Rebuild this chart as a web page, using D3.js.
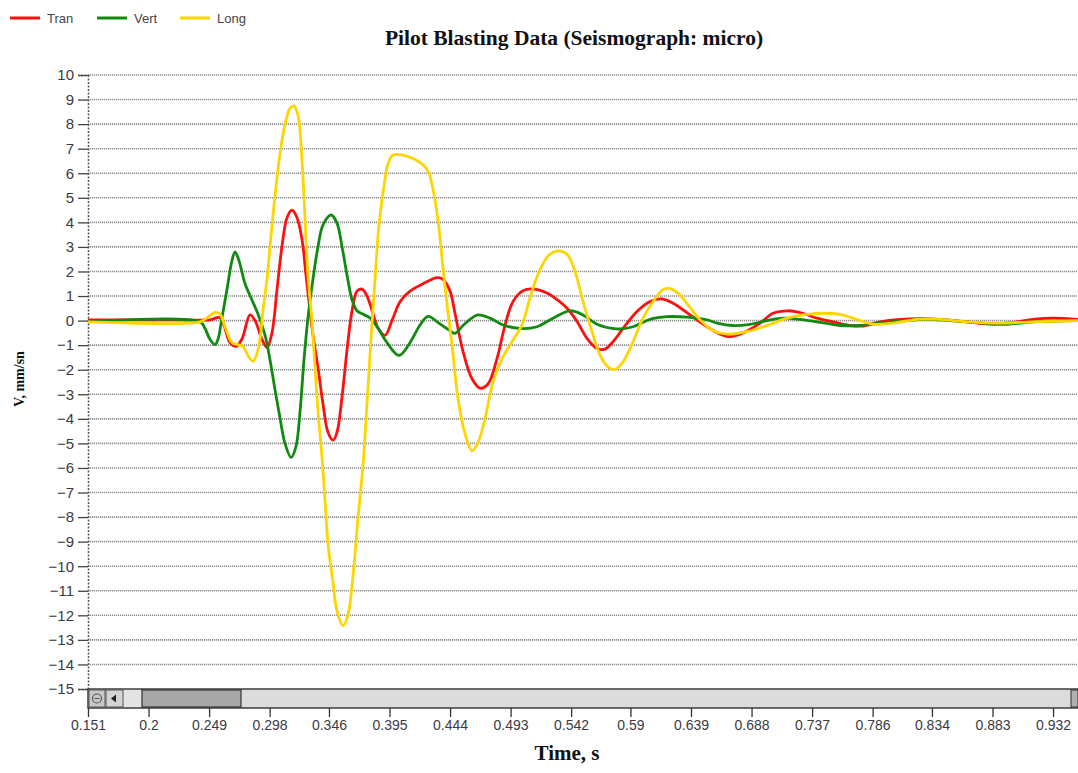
<!DOCTYPE html>
<html>
<head>
<meta charset="utf-8">
<script src="https://cdnjs.cloudflare.com/ajax/libs/d3/7.8.5/d3.min.js"></script>
<style>
  html, body { margin: 0; padding: 0; background: #fff; }
  svg { display: block; }
</style>
</head>
<body>
<svg id="chart" width="1078" height="773"></svg>
<script>
// ---------- DATA ----------
const seriesNames = ["Tran", "Vert", "Long"];
const seriesColors = ["#ff1010", "#118a11", "#ffd500"];

const xTickValues = [0.151, 0.2, 0.249, 0.298, 0.346, 0.395, 0.444, 0.493, 0.542, 0.59, 0.639, 0.688, 0.737, 0.786, 0.834, 0.883, 0.932];
const xTickLabels = ["0.151", "0.2", "0.249", "0.298", "0.346", "0.395", "0.444", "0.493", "0.542", "0.59", "0.639", "0.688", "0.737", "0.786", "0.834", "0.883", "0.932"];
const yTickValues = [10, 9, 8, 7, 6, 5, 4, 3, 2, 1, 0, -1, -2, -3, -4, -5, -6, -7, -8, -9, -10, -11, -12, -13, -14, -15];

// [time s, velocity mm/s]
const tranData = [[0.151,0.03],[0.2255,0.03],[0.2497,0.03],[0.2578,0.12],[0.2659,-0.9],[0.2708,-1.05],[0.2756,-0.75],[0.2821,0.23],[0.2862,0.0],[0.2918,-0.76],[0.2959,-1.1],[0.2999,-0.5],[0.3040,1.28],[0.3080,3.03],[0.3121,4.2],[0.3161,4.5],[0.3201,4.2],[0.3242,3.3],[0.3274,1.86],[0.3307,0.4],[0.3331,-0.6],[0.3371,-1.9],[0.3412,-3.4],[0.3452,-4.55],[0.3493,-4.87],[0.3525,-4.55],[0.3566,-3.1],[0.3606,-1.2],[0.3647,0.4],[0.3687,1.2],[0.3728,1.28],[0.3768,1.0],[0.3809,0.4],[0.3857,-0.3],[0.3914,-0.6],[0.3970,0.0],[0.4035,0.77],[0.4116,1.2],[0.4221,1.5],[0.4335,1.75],[0.4383,1.68],[0.4440,1.2],[0.4480,0.3],[0.4545,-1.25],[0.4618,-2.37],[0.4683,-2.75],[0.4747,-2.58],[0.4820,-1.55],[0.4885,-0.18],[0.4950,0.78],[0.5031,1.22],[0.5112,1.29],[0.5225,1.12],[0.5306,0.85],[0.5387,0.5],[0.5468,-0.04],[0.5549,-0.73],[0.5630,-1.14],[0.5694,-1.16],[0.5759,-0.86],[0.5840,-0.32],[0.5953,0.37],[0.6058,0.78],[0.6156,0.88],[0.6245,0.71],[0.6382,0.23],[0.6520,-0.25],[0.6625,-0.55],[0.6706,-0.65],[0.6811,-0.5],[0.6949,-0.1],[0.7054,0.3],[0.7175,0.4],[0.7272,0.33],[0.7410,0.1],[0.7540,-0.05],[0.7677,-0.2],[0.7782,-0.22],[0.7920,-0.05],[0.8082,0.05],[0.8243,0.08],[0.8405,0.05],[0.8624,-0.05],[0.8834,-0.15],[0.9029,-0.05],[0.9158,0.05],[0.9320,0.1],[0.9522,0.05]];

const vertData = [[0.151,-0.05],[0.2416,-0.05],[0.2457,-0.32],[0.2497,-0.76],[0.2538,-0.98],[0.2562,-0.76],[0.2594,0.11],[0.2635,1.28],[0.2675,2.44],[0.2700,2.8],[0.2732,2.44],[0.2781,1.5],[0.2837,0.84],[0.2886,0.26],[0.2943,-0.6],[0.2983,-1.6],[0.3023,-2.8],[0.3064,-3.97],[0.3104,-5.0],[0.3153,-5.57],[0.3193,-5.13],[0.3226,-3.7],[0.3258,-1.6],[0.3290,0.11],[0.3331,1.7],[0.3371,3.0],[0.3412,3.9],[0.3477,4.3],[0.3525,3.97],[0.3566,3.0],[0.3606,1.86],[0.3647,0.84],[0.3687,0.4],[0.3736,0.26],[0.3792,0.11],[0.3849,-0.25],[0.3930,-0.9],[0.4027,-1.42],[0.4116,-0.9],[0.4197,-0.18],[0.4262,0.17],[0.4343,-0.08],[0.4440,-0.42],[0.4480,-0.52],[0.4545,-0.2],[0.4618,0.11],[0.4666,0.23],[0.4764,0.1],[0.4869,-0.18],[0.5006,-0.32],[0.5144,-0.25],[0.5273,0.1],[0.5411,0.4],[0.5516,0.23],[0.5630,-0.15],[0.5791,-0.34],[0.5921,-0.25],[0.6058,0.05],[0.6196,0.16],[0.6358,0.14],[0.6520,0.03],[0.6601,-0.1],[0.6730,-0.2],[0.6868,-0.15],[0.7005,0.0],[0.7135,0.1],[0.7272,0.05],[0.7410,-0.05],[0.7596,-0.2],[0.7758,-0.2],[0.7920,-0.1],[0.8138,0.0],[0.8284,0.05],[0.8486,0.0],[0.8753,-0.1],[0.8948,-0.15],[0.9158,-0.05],[0.9522,0.0]];

const longData = [[0.151,-0.05],[0.2416,-0.05],[0.2473,0.11],[0.2538,0.33],[0.2578,0.26],[0.2619,-0.25],[0.2675,-0.9],[0.2724,-0.98],[0.2764,-1.05],[0.2805,-1.42],[0.2845,-1.66],[0.2878,-1.34],[0.2902,-0.76],[0.2926,0.4],[0.2959,1.7],[0.2983,3.0],[0.3023,5.07],[0.3064,6.8],[0.3104,7.98],[0.3145,8.64],[0.3177,8.74],[0.3210,8.34],[0.3242,6.5],[0.3266,4.2],[0.3290,1.86],[0.3323,-0.03],[0.3347,-1.9],[0.3371,-3.67],[0.3404,-5.57],[0.3428,-7.3],[0.3452,-9.07],[0.3493,-10.67],[0.3525,-11.83],[0.3574,-12.42],[0.3614,-11.98],[0.3655,-10.38],[0.3695,-8.05],[0.3736,-5.86],[0.3768,-3.38],[0.3800,-0.76],[0.3833,1.7],[0.3865,3.9],[0.3906,5.5],[0.3938,6.38],[0.3978,6.74],[0.4059,6.74],[0.4140,6.6],[0.4213,6.38],[0.4262,6.09],[0.4302,5.36],[0.4343,4.05],[0.4383,2.15],[0.4424,0.3],[0.4456,-1.0],[0.4505,-3.2],[0.4561,-4.6],[0.4618,-5.3],[0.4666,-4.97],[0.4723,-4.0],[0.4788,-2.5],[0.4861,-1.55],[0.4942,-0.86],[0.5022,-0.18],[0.5087,0.92],[0.5152,1.88],[0.5233,2.63],[0.5314,2.84],[0.5387,2.7],[0.5451,2.01],[0.5516,0.78],[0.5589,-0.45],[0.5654,-1.41],[0.5719,-1.89],[0.5775,-1.99],[0.5840,-1.68],[0.5921,-0.86],[0.6002,0.1],[0.6083,0.78],[0.6164,1.26],[0.6220,1.3],[0.6285,1.12],[0.6366,0.64],[0.6463,0.03],[0.6568,-0.4],[0.6682,-0.55],[0.6843,-0.45],[0.7005,-0.2],[0.7167,0.1],[0.7329,0.25],[0.7459,0.3],[0.7596,0.25],[0.7758,0.0],[0.7863,-0.15],[0.8025,-0.1],[0.8219,0.05],[0.8405,0.05],[0.8624,-0.05],[0.8891,-0.1],[0.9158,-0.05],[0.9522,0.0]];

const seriesData = [tranData, vertData, longData];

const titleText = "Pilot Blasting Data (Seismograph: micro)";
const xTitle = "Time, s";
const yTitle = "V, mm/sn";

// ---------- LAYOUT ----------
const svg = d3.select("#chart");
const plotLeft = 88, plotRight = 1078, plotTop = 75, plotBottom = 689;
const sbHeight = 19;

const x = d3.scaleLinear().domain([0.151, 0.9522]).range([plotLeft, plotRight]);
const y = d3.scaleLinear().domain([-15, 10]).range([plotBottom, plotTop]);

// gridlines
svg.append("g").selectAll("line")
  .data(yTickValues.filter(v => v > -15))
  .join("line")
  .attr("x1", plotLeft).attr("x2", plotRight)
  .attr("y1", d => y(d)).attr("y2", d => y(d))
  .attr("stroke", "#8c8c8c").attr("stroke-width", 1.6)
  .attr("stroke-dasharray", "1.2,0.8");

// y axis
const yAxis = d3.axisLeft(y).tickValues(yTickValues).tickSize(10).tickPadding(4).tickFormat(d3.format("d"));
const gy = svg.append("g").attr("transform", `translate(${plotLeft},0)`).call(yAxis);
gy.select(".domain").attr("stroke", "#555").attr("stroke-width", 1.5).attr("stroke-dasharray", "2,1.5");
gy.selectAll(".tick line").attr("stroke", "#444").attr("stroke-width", 1.3);
gy.selectAll(".tick text").attr("fill", "#3a3a44").style("font-family", "'Liberation Sans', Arial, sans-serif").style("font-size", "15px");

// clip for series
svg.append("clipPath").attr("id", "plotclip")
  .append("rect").attr("x", plotLeft).attr("y", plotTop - 5).attr("width", plotRight - plotLeft).attr("height", plotBottom - plotTop + 5);

const line = d3.line().x(d => x(d[0])).y(d => y(d[1])).curve(d3.curveCatmullRom.alpha(0.5));

svg.append("g").attr("clip-path", "url(#plotclip)")
  .selectAll("path")
  .data(seriesData)
  .join("path")
  .attr("d", d => line(d))
  .attr("fill", "none")
  .attr("stroke", (d, i) => seriesColors[i])
  .attr("stroke-width", 2.8)
  .attr("stroke-linejoin", "round");

// scrollbar
const sb = svg.append("g");
sb.append("rect").attr("x", plotLeft).attr("y", plotBottom).attr("width", plotRight - plotLeft).attr("height", sbHeight)
  .attr("fill", "#dcdcdc").attr("stroke", "#3c3c3c").attr("stroke-width", 1.5);
sb.append("rect").attr("x", plotLeft + 1).attr("y", plotBottom + 1).attr("width", 16).attr("height", sbHeight - 2)
  .attr("fill", "#c9c9c9").attr("stroke", "#555").attr("stroke-width", 1);
sb.append("circle").attr("cx", plotLeft + 9).attr("cy", plotBottom + sbHeight / 2).attr("r", 4.5)
  .attr("fill", "none").attr("stroke", "#555").attr("stroke-width", 1.2);
sb.append("line").attr("x1", plotLeft + 6.5).attr("x2", plotLeft + 11.5).attr("y1", plotBottom + sbHeight / 2).attr("y2", plotBottom + sbHeight / 2)
  .attr("stroke", "#555").attr("stroke-width", 1);
sb.append("rect").attr("x", plotLeft + 18).attr("y", plotBottom + 1).attr("width", 17).attr("height", sbHeight - 2)
  .attr("fill", "#d4d4d4").attr("stroke", "#555").attr("stroke-width", 1);
sb.append("path").attr("d", `M${plotLeft + 23},${plotBottom + sbHeight / 2} l5,-4 l0,8 z`).attr("fill", "#222");
sb.append("rect").attr("x", plotLeft + 36).attr("y", plotBottom + 1).attr("width", 18).attr("height", sbHeight - 2)
  .attr("fill", "#e4e4e4");
sb.append("rect").attr("x", plotLeft + 54).attr("y", plotBottom + 1).attr("width", 99).attr("height", sbHeight - 2)
  .attr("fill", "#a8a8a8").attr("stroke", "#333").attr("stroke-width", 1.2);
sb.append("rect").attr("x", plotRight - 7).attr("y", plotBottom + 1).attr("width", 7).attr("height", sbHeight - 2)
  .attr("fill", "#b0b0b0").attr("stroke", "#333").attr("stroke-width", 1);

// x axis
const xAxis = d3.axisBottom(x).tickValues(xTickValues).tickSize(9).tickPadding(3)
  .tickFormat((d, i) => xTickLabels[i]);
const gx = svg.append("g").attr("transform", `translate(0,${plotBottom + sbHeight})`).call(xAxis);
gx.select(".domain").remove();
gx.selectAll(".tick line").attr("stroke", "#333").attr("stroke-width", 1.3);
gx.selectAll(".tick text").attr("fill", "#3a3a44").style("font-family", "'Liberation Sans', Arial, sans-serif").style("font-size", "14px");

// titles
svg.append("text").attr("x", 574).attr("y", 45).attr("text-anchor", "middle")
  .style("font-family", "'Liberation Serif', 'Times New Roman', serif").style("font-weight", "bold").style("font-size", "21.5px")
  .attr("fill", "#111").text(titleText);
svg.append("text").attr("x", 567).attr("y", 760).attr("text-anchor", "middle")
  .style("font-family", "'Liberation Serif', 'Times New Roman', serif").style("font-weight", "bold").style("font-size", "21px")
  .attr("fill", "#111").text(xTitle);
svg.append("text").attr("transform", "translate(24,379) rotate(-90)").attr("text-anchor", "middle")
  .style("font-family", "'Liberation Serif', 'Times New Roman', serif").style("font-weight", "bold").style("font-size", "14px")
  .attr("fill", "#111").text(yTitle);

// legend
const legendX = [10, 97, 180];
const lg = svg.append("g").selectAll("g").data(seriesNames).join("g")
  .attr("transform", (d, i) => `translate(${legendX[i]},18)`);
lg.append("line").attr("x1", 0).attr("x2", 30).attr("y1", 0).attr("y2", 0)
  .attr("stroke", (d, i) => seriesColors[i]).attr("stroke-width", 3);
lg.append("text").attr("x", 37).attr("y", 5).text(d => d)
  .style("font-family", "'Liberation Sans', Arial, sans-serif").style("font-size", "13px").attr("fill", "#444");
</script>
</body>
</html>
